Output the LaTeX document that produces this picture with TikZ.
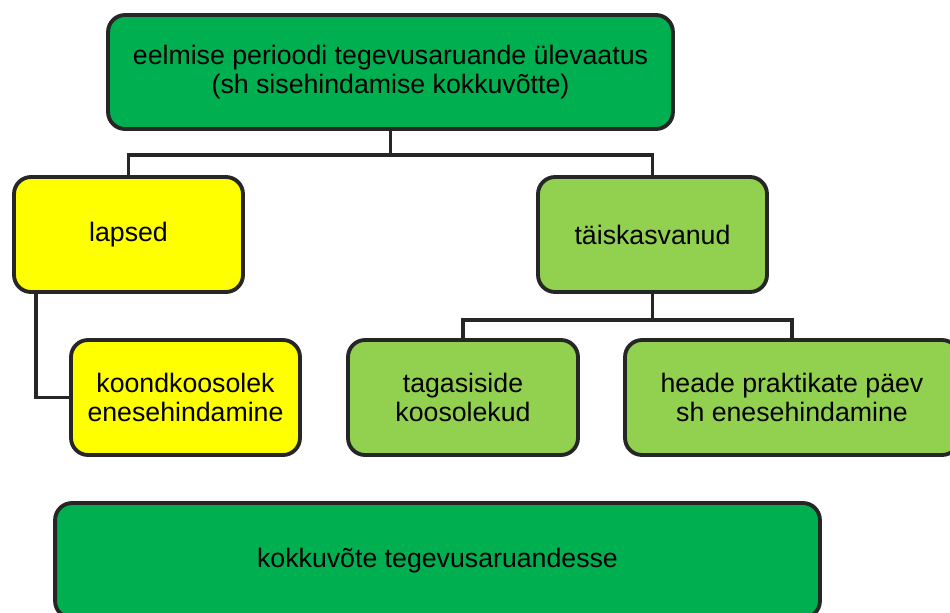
\documentclass[tikz,border=0pt]{standalone}
\usepackage{fontspec}
\setmainfont{Liberation Sans}
\usetikzlibrary{positioning}

\definecolor{tumeroheline}{HTML}{00B050}
\definecolor{heleroheline}{HTML}{92D050}
\definecolor{kollane}{HTML}{FFFF00}
\definecolor{joon}{HTML}{262626}

\begin{document}
\begin{tikzpicture}[x=0.02cm,y=-0.02cm,
        kast/.style={draw=joon,line width=2.2pt,rounded corners=0.34cm,
            align=center,inner sep=0pt,minimum height=2.3cm,
            font=\fontsize{15.2}{16.5}\selectfont},
        yhendus/.style={draw=joon,line width=2pt}]
            \useasboundingbox (0,0) rectangle (950,612);
            \clip (0,0) rectangle (950,612);
            \node[kast, fill=tumeroheline, minimum width=11.3cm, minimum height=2.28cm] (ylevaade) at (390.5,72)
                {eelmise perioodi tegevusaruande ülevaatus\\(sh sisehindamise kokkuvõtte)};
            \node[kast, fill=kollane, minimum width=4.58cm] (lapsed) at (128.5,234.5) {lapsed};
            \node[kast, fill=heleroheline, minimum width=4.58cm] (taisk) at (652.5,234.5) {täiskasvanud};
            \node[kast, fill=kollane, minimum width=4.58cm] (koond) at (185.5,397.5)
                {koondkoosolek\\enesehindamine};
            \node[kast, fill=heleroheline, minimum width=4.6cm] (tagasiside) at (463,397.5)
                {tagasiside\\koosolekud};
            \node[kast, fill=heleroheline, minimum width=6.68cm] (heade) at (792,397.5)
                {heade praktikate päev\\sh enesehindamine};
            \node[kast, fill=tumeroheline, minimum width=15.3cm] (kokkuvote) at (437.5,560.5)
                {kokkuvõte tegevusaruandesse};
            % harud
            \draw[yhendus] (ylevaade.south) -- ++(0,24) coordinate (haru_1);
            \draw[yhendus] (haru_1) -| (lapsed.north);
            \draw[yhendus] (haru_1) -| (taisk.north);
            \draw[yhendus] (taisk.south) -- ++(0,26) coordinate (haru_2);
            \draw[yhendus] (haru_2) -| (tagasiside.north);
            \draw[yhendus] (haru_2) -| (heade.north);
            \draw[yhendus] ([xshift=0.48cm]lapsed.south west) |- (koond.west);
        \end{tikzpicture}
\end{document}
